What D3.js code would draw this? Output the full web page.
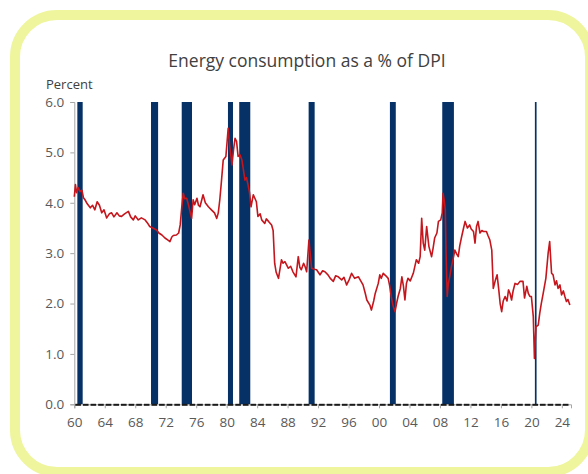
<!DOCTYPE html>
<html>
<head>
<meta charset="utf-8">
<script src="https://cdn.jsdelivr.net/npm/d3@7"></script>
<style>
  body { margin: 0; background: #fff; }
  text { font-family: "Open Sans", "Noto Sans", sans-serif; }
</style>
</head>
<body>
<div id="container"></div>
<script>

let w = 588;
let h = 474;

// energy share of DPI (year, percent)
let years = [
  1960.0, 1960.15, 1960.3, 1960.5, 1960.75, 1961.0, 1961.2, 1961.4, 1961.7, 1962.1,
  1962.4, 1962.7, 1963.0, 1963.3, 1963.6, 1963.9, 1964.25, 1964.6, 1964.9, 1965.2,
  1965.6, 1965.9, 1966.2, 1966.6, 1967.1, 1967.4, 1967.75, 1968.0, 1968.4, 1968.8,
  1969.3, 1969.6, 1969.9, 1970.3, 1970.8, 1971.1, 1971.5, 1971.9, 1972.3, 1972.56,
  1972.8, 1973.0, 1973.4, 1973.7, 1973.9, 1974.1, 1974.3, 1974.5, 1974.75, 1975.0,
  1975.4, 1975.6, 1975.8, 1976.1, 1976.3, 1976.5, 1976.9, 1977.2, 1977.6, 1978.0,
  1978.4, 1978.7, 1978.9, 1979.1, 1979.3, 1979.55, 1979.9, 1980.2, 1980.4, 1980.7,
  1980.9, 1981.1, 1981.3, 1981.5, 1981.75, 1982.0, 1982.4, 1982.6, 1982.8, 1983.0,
  1983.2, 1983.5, 1983.9, 1984.1, 1984.4, 1984.6, 1985.0, 1985.2, 1985.5, 1985.9,
  1986.1, 1986.3, 1986.5, 1986.8, 1987.2, 1987.4, 1987.65, 1988.1, 1988.4, 1988.7,
  1989.1, 1989.4, 1989.6, 1989.8, 1990.1, 1990.3, 1990.5, 1990.8, 1991.15, 1991.5,
  1991.8, 1992.25, 1992.6, 1992.9, 1993.3, 1993.6, 1994.0, 1994.3, 1994.65, 1995.1,
  1995.4, 1995.75, 1996.1, 1996.4, 1996.8, 1997.3, 1997.6, 1997.9, 1998.2, 1998.4,
  1998.8, 1999.0, 1999.3, 1999.5, 1999.9, 2000.1, 2000.3, 2000.55, 2000.9, 2001.2,
  2001.4, 2001.6, 2001.85, 2002.1, 2002.3, 2002.5, 2002.8, 2003.0, 2003.2, 2003.4,
  2003.6, 2003.8, 2004.1, 2004.5, 2004.9, 2005.2, 2005.4, 2005.6, 2005.8, 2006.0,
  2006.25, 2006.55, 2006.9, 2007.1, 2007.3, 2007.6, 2007.8, 2008.1, 2008.3, 2008.4,
  2008.55, 2008.7, 2008.8, 2008.95, 2009.1, 2009.3, 2009.5, 2009.75, 2009.95, 2010.2,
  2010.4, 2010.6, 2010.85, 2011.1, 2011.3, 2011.6, 2011.9, 2012.1, 2012.4, 2012.6,
  2012.8, 2013.0, 2013.25, 2013.5, 2013.7, 2014.1, 2014.3, 2014.55, 2014.8, 2015.0,
  2015.25, 2015.5, 2015.7, 2015.9, 2016.1, 2016.3, 2016.55, 2016.8, 2017.0, 2017.2,
  2017.4, 2017.6, 2017.85, 2018.2, 2018.5, 2018.9, 2019.1, 2019.4, 2019.6, 2019.8,
  2020.0, 2020.25, 2020.4, 2020.6, 2020.9, 2021.1, 2021.3, 2021.55, 2021.9, 2022.2,
  2022.4, 2022.55, 2022.65, 2022.85, 2023.1, 2023.3, 2023.5, 2023.75, 2023.96, 2024.2,
  2024.4, 2024.6, 2024.8, 2025.05
];
let values = [
  4.12, 4.36, 4.20, 4.30, 4.22, 4.25, 4.10, 4.06, 3.98, 3.90,
  3.95, 3.86, 4.02, 3.95, 3.80, 3.86, 3.70, 3.78, 3.80, 3.72,
  3.80, 3.74, 3.73, 3.78, 3.83, 3.72, 3.66, 3.74, 3.66, 3.70,
  3.66, 3.60, 3.53, 3.50, 3.46, 3.40, 3.36, 3.30, 3.26, 3.23,
  3.32, 3.35, 3.36, 3.40, 3.56, 3.90, 4.19, 4.08, 4.09, 3.95,
  3.69, 4.06, 3.96, 4.09, 3.95, 3.92, 4.16, 4.00, 3.92, 3.86,
  3.80, 3.69, 3.80, 4.06, 4.40, 4.85, 4.92, 5.48, 5.12, 4.75,
  5.05, 5.28, 5.22, 4.92, 4.95, 4.85, 4.45, 4.50, 4.36, 4.20,
  3.92, 4.16, 4.02, 3.73, 3.78, 3.66, 3.59, 3.68, 3.63, 3.56,
  3.45, 2.80, 2.62, 2.50, 2.87, 2.80, 2.83, 2.70, 2.74, 2.63,
  2.53, 2.93, 2.72, 2.67, 2.80, 2.73, 2.63, 3.26, 2.70, 2.68,
  2.67, 2.57, 2.65, 2.63, 2.57, 2.50, 2.44, 2.55, 2.53, 2.47,
  2.52, 2.37, 2.48, 2.60, 2.50, 2.53, 2.45, 2.37, 2.20, 2.07,
  1.97, 1.87, 2.05, 2.20, 2.40, 2.57, 2.50, 2.60, 2.55, 2.50,
  2.35, 2.14, 1.95, 1.84, 2.00, 2.14, 2.30, 2.53, 2.35, 2.07,
  2.40, 2.50, 2.45, 2.60, 2.87, 2.80, 2.93, 3.69, 3.20, 3.06,
  3.53, 3.13, 2.93, 3.10, 3.30, 3.40, 3.63, 3.66, 3.80, 4.19,
  4.05, 3.86, 3.00, 2.14, 2.40, 2.55, 2.73, 2.90, 3.06, 2.98,
  2.93, 3.15, 3.33, 3.50, 3.63, 3.50, 3.56, 3.48, 3.43, 3.20,
  3.53, 3.63, 3.40, 3.45, 3.43, 3.43, 3.35, 3.26, 3.06, 2.30,
  2.45, 2.57, 2.30, 2.00, 1.84, 2.05, 2.14, 2.05, 2.27, 2.20,
  2.07, 2.25, 2.40, 2.38, 2.44, 2.44, 2.11, 2.34, 2.20, 2.14,
  2.14, 1.74, 0.91, 1.54, 1.57, 1.81, 2.00, 2.20, 2.50, 3.00,
  3.23, 2.85, 2.60, 2.57, 2.37, 2.45, 2.30, 2.37, 2.17, 2.25,
  2.14, 2.04, 2.08, 1.97
];

// recession shading, start / end as plotted
let recStart = [1960.4, 1970.07, 1974.1, 1980.17, 1981.65, 1990.76, 2001.43, 2008.3, 2020.46];
let recEnd   = [1961.1, 1971.0, 1975.45, 1980.83, 1983.1, 1991.55, 2002.2, 2009.83, 2020.68];

let yTicks = [0, 1, 2, 3, 4, 5, 6];
let xTicks = d3.range(1960, 2025, 4);

let viz = d3.select("#container")
  .append("svg")
    .attr("width", w)
    .attr("height", h)
;

// card frame
viz.append("rect")
  .attr("x", 15).attr("y", 15)
  .attr("width", 575).attr("height", 457)
  .attr("rx", 42)
  .attr("fill", "#fff")
  .attr("stroke", "#eef59c")
  .attr("stroke-width", 10);

viz.append("text")
  .attr("x", 307).attr("y", 67)
  .attr("text-anchor", "middle")
  .attr("font-size", 17.5)
  .attr("fill", "#404040")
  .text("Energy consumption as a % of DPI");

viz.append("text")
  .attr("x", 46).attr("y", 89)
  .attr("font-size", 13)
  .attr("fill", "#404040")
  .text("Percent");

let plotLeft = 74.3, plotRight = 571, plotTop = 102, plotBottom = 404.3;

let xScale = d3.scaleLinear().domain([1960, 2025.2]).range([plotLeft, plotRight]);
let yScale = d3.scaleLinear().domain([0, 6]).range([plotBottom, plotTop]);

// recession bars
viz.append("g").selectAll("rect")
  .data(recStart)
  .join("rect")
    .attr("x", d => xScale(d))
    .attr("y", yScale(6))
    .attr("width", (d, i) => xScale(recEnd[i]) - xScale(d))
    .attr("height", yScale(0) - yScale(6))
    .attr("fill", "#063167");

//y axis
let yAxis = d3.axisLeft(yScale).tickValues(yTicks).tickFormat(d3.format(".1f")).tickSize(4).tickPadding(6);
let yAxisGroup = viz.append("g").attr("class", "yaxis")
  .attr("transform", "translate(" + plotLeft + ", 0)")
  .call(yAxis);
yAxisGroup.select(".domain").attr("stroke", "#a6a6a6");
yAxisGroup.selectAll("line").attr("stroke", "#a6a6a6");
yAxisGroup.selectAll("text").attr("font-size", 13.5).attr("fill", "#595959").attr("font-family", "'Open Sans', sans-serif");

//x axis
let xAxis = d3.axisBottom(xScale).tickValues(xTicks)
  .tickFormat(d => d3.format("02d")(d % 100)).tickSize(4).tickPadding(9);
let xAxisGroup = viz.append("g").attr("class", "xaxis")
  .attr("transform", "translate(0, " + plotBottom + ")")
  .call(xAxis);
xAxisGroup.select(".domain").attr("stroke", "#a6a6a6");
xAxisGroup.selectAll("line").attr("stroke", "#a6a6a6");
xAxisGroup.selectAll("text").attr("font-size", 13.5).attr("fill", "#595959").attr("font-family", "'Open Sans', sans-serif");

// yearly minor ticks make the axis look dashed
let minorYears = d3.range(1960, 2025);
viz.append("g").selectAll("line")
  .data(minorYears)
  .join("line")
    .attr("x1", d => xScale(d) + 1)
    .attr("x2", d => Math.min(xScale(d + 1) - 1, plotRight))
    .attr("y1", plotBottom + 0.5)
    .attr("y2", plotBottom + 0.5)
    .attr("stroke", "#1a1a1a")
    .attr("stroke-width", 2);

// the series
let line = d3.line()
  .x((d, i) => xScale(years[i]))
  .y(d => yScale(d));

viz.append("path")
  .datum(values)
  .attr("d", line)
  .attr("fill", "none")
  .attr("stroke", "#c4161c")
  .attr("stroke-width", 1.6)
  .attr("stroke-linejoin", "round");

</script>
</body>
</html>
